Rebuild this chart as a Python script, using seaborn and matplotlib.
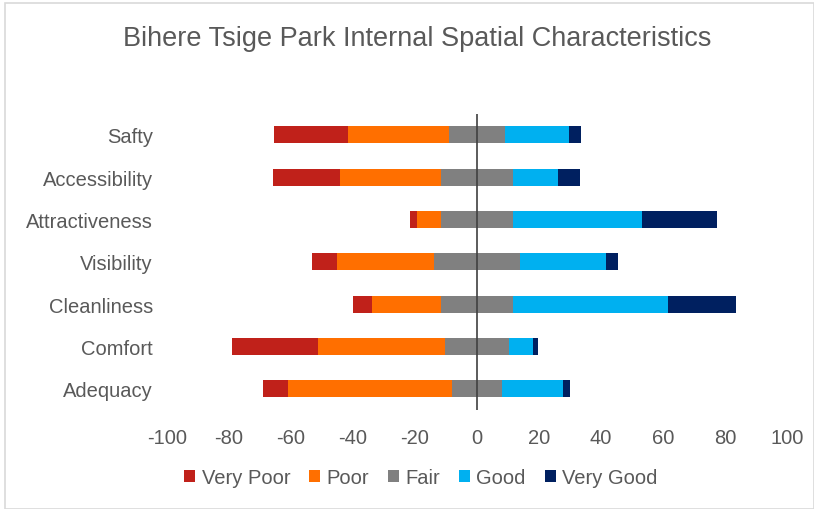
import numpy as np
import pandas as pd
import seaborn as sns
import matplotlib.pyplot as plt
from matplotlib.patches import Patch, Rectangle

categories = ['Safty', 'Accessibility', 'Attractiveness', 'Visibility',
              'Cleanliness', 'Comfort', 'Adequacy']
very_poor = [24.1, 21.6, 2.4, 8.1, 6.1, 27.8, 8.2]
poor = [32.5, 32.4, 7.8, 31.3, 22.5, 40.8, 52.9]
fair = [17.9, 23.5, 22.9, 27.8, 22.9, 20.8, 15.9]
good = [20.7, 14.5, 41.9, 27.8, 50.1, 7.7, 19.7]
very_good = [3.8, 7.0, 24.1, 3.7, 21.9, 1.7, 2.4]

levels = ['Very Poor', 'Poor', 'Fair', 'Good', 'Very Good']
colors = ['#C0211A', '#FF6F00', '#808080', '#00B0F0', '#002060']

df = pd.DataFrame({'cat': categories, 'vp': very_poor, 'p': poor, 'f': fair,
                   'g': good, 'vg': very_good})
# fair is split evenly around zero, the rest stacks outward
half = df['f'] / 2
layers = [
    (-(half + df['p'] + df['vp']), colors[0]),
    (-(half + df['p']), colors[1]),
    (half + df['g'] + df['vg'], colors[4]),
    (half + df['g'], colors[3]),
    (-half, colors[2]),
    (half, colors[2]),
]

sns.set_style('white')
plt.rcParams['font.family'] = ['Liberation Sans', 'DejaVu Sans']
plt.rcParams['axes.unicode_minus'] = False

fig = plt.figure(figsize=(8.14, 5.1), dpi=100)
ax = fig.add_axes([0.205, 0.194, 0.762, 0.581])

for vals, col in layers:
    sns.barplot(x=vals, y=df['cat'], order=categories, color=col, orient='h',
                width=0.4, ax=ax, saturation=1, linewidth=0)

ax.set_xlim(-100, 100)
ax.set_xticks(np.arange(-100, 101, 20))
ax.axvline(0, color='#404040', lw=1.2, zorder=5)
ax.set_xlabel('')
ax.set_ylabel('')
for s in ax.spines.values():
    s.set_visible(False)
ax.tick_params(axis='both', length=0, labelsize=14.5, labelcolor='#595959')
ax.tick_params(axis='x', pad=13)
ax.tick_params(axis='y', pad=10)

fig.suptitle('Bihere Tsige Park Internal Spatial Characteristics',
             x=0.513, y=0.95, fontsize=19.5, color='#595959')

handles = [Patch(facecolor=c, edgecolor='none') for c in colors]
fig.legend(handles, levels, loc='center', bbox_to_anchor=(0.517, 0.062),
           ncol=5, frameon=False, fontsize=14.5, handlelength=0.55,
           handleheight=0.55, handletextpad=0.3, columnspacing=0.95,
           labelcolor='#595959')

fig.patches.append(Rectangle((0.006, 0.0), 0.994, 0.992, transform=fig.transFigure,
                             fill=False, edgecolor='#D9D9D9', lw=1.2))

fig.savefig('out.png', dpi=100)
